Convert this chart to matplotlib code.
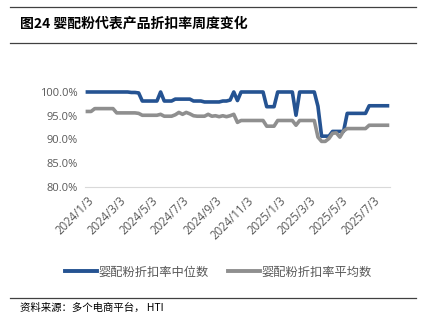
import matplotlib.pyplot as plt
import matplotlib.dates as mdates
import numpy as np
import pandas as pd
from matplotlib.lines import Line2D

plt.rcParams['font.family'] = ['Noto Sans CJK SC', 'DejaVu Sans']

# weekly observations, 2024/1/3 .. 2025/7/30
dates = pd.date_range('2024-01-03', periods=83, freq='7D')

median_rate = [
    100.0, 100.0, 100.0, 100.0, 100.0, 100.0, 100.0, 100.0, 100.0, 100.0, 100.0, 100.0,
    99.9, 99.9, 99.8,
    98.1, 98.1, 98.1, 98.1, 98.1,
    100.0,
    98.1, 98.1, 98.1,
    98.5, 98.5, 98.5, 98.5, 98.5,
    98.1, 98.1, 98.1,
    97.9, 97.9, 97.9, 97.9, 97.9,
    98.1, 98.1, 98.3,
    100.0, 98.2,
    100.0, 100.0, 100.0, 100.0, 100.0, 100.0, 100.0,
    96.9, 96.9, 96.9,
    100.0, 100.0, 100.0, 100.0, 100.0,
    95.1,
    100.0, 100.0, 100.0, 100.0, 100.0,
    97.0,
    90.7, 90.7, 90.7,
    91.7, 91.7, 91.7, 91.7,
    95.5, 95.5, 95.5, 95.5, 95.5, 95.5,
    97.1, 97.1, 97.1, 97.1, 97.1, 97.1,
]

mean_rate = [
    95.9, 95.9,
    96.5, 96.5, 96.5, 96.5, 96.5, 96.5,
    95.6, 95.6, 95.6, 95.6, 95.6, 95.6,
    95.5,
    95.1, 95.1, 95.1, 95.1, 95.1,
    95.3,
    94.9, 94.9, 94.9,
    95.2, 95.7, 95.3, 95.7, 95.4, 95.0,
    94.9, 94.9, 94.9,
    95.3, 94.9, 95.0, 94.8, 95.0, 94.8, 95.0, 95.3,
    93.6,
    94.0, 94.0, 94.0, 94.0, 94.0, 94.0, 94.0,
    92.8, 92.8, 92.8,
    94.0, 94.0, 94.0, 94.0, 94.0,
    93.0,
    94.0, 94.0, 94.0, 94.0, 94.0,
    90.5, 89.6, 89.6, 90.2, 91.3, 91.4, 90.5, 91.8,
    92.3, 92.3, 92.3, 92.3, 92.3, 92.3,
    93.0, 93.0, 93.0, 93.0, 93.0, 93.0,
]

tick_dates = pd.to_datetime(['2024-01-03', '2024-03-03', '2024-05-03', '2024-07-03', '2024-09-03',
                             '2024-11-03', '2025-01-03', '2025-03-03', '2025-05-03', '2025-07-03'])
tick_labels = ['2024/1/3', '2024/3/3', '2024/5/3', '2024/7/3', '2024/9/3',
               '2024/11/3', '2025/1/3', '2025/3/3', '2025/5/3', '2025/7/3']
y_ticks = [80, 85, 90, 95, 100]

blue = '#255392'
grey = '#8f8f8f'
text_grey = '#595959'

fig = plt.figure(figsize=(4.24, 3.29), dpi=100)
ax = fig.add_axes([0.2, 0.4316, 0.72, 0.2888])

ax.plot(dates, median_rate, color=blue, lw=2.6, clip_on=False, solid_joinstyle='round')
ax.plot(dates, mean_rate, color=grey, lw=2.6, clip_on=False, solid_joinstyle='round')

ax.set_ylim(80, 100)
ax.set_yticks(y_ticks)
ax.set_yticklabels([f'{v:.1f}%' for v in y_ticks], color=text_grey, fontsize=8,
                   family=['Open Sans', 'DejaVu Sans'])
ax.set_xlim(mdates.date2num(dates[0]) - 5, mdates.date2num(dates[-1]) + 5)
ax.set_xticks(mdates.date2num(tick_dates))
ax.set_xticklabels(tick_labels, rotation=45, ha='right', rotation_mode='anchor',
                   color=text_grey, fontsize=8.3, family=['Open Sans', 'DejaVu Sans'])
ax.tick_params(length=0, pad=5)
for s in ['top', 'right', 'left']:
    ax.spines[s].set_visible(False)
ax.spines['bottom'].set_color('#d9d9d9')

# legend
handles = [Line2D([], [], color=blue, lw=2.8), Line2D([], [], color=grey, lw=2.8)]
fig.legend(handles, ['婴配粉折扣率中位数', '婴配粉折扣率平均数'], loc='center',
           bbox_to_anchor=(0.515, 1 - 272 / 329), ncol=2, frameon=False, fontsize=8.8,
           handlelength=2.6, handletextpad=0.1, columnspacing=1.6, labelcolor=text_grey)

# header / footer rules and texts
for yy in [1 - 7 / 329, 1 - 43 / 329, 1 - 298 / 329]:
    fig.add_artist(Line2D([10 / 424, 416 / 424], [yy, yy], color='#404040', lw=0.9))
fig.text(20 / 424, 1 - 24 / 329, '图24 婴配粉代表产品折扣率周度变化', fontsize=10,
         fontweight='bold', va='center', ha='left', color='black')
fig.text(20 / 424, 1 - 308 / 329, '资料来源：多个电商平台， HTI', fontsize=7.5,
         va='center', ha='left', color='black')

fig.savefig('out.png', dpi=100)
